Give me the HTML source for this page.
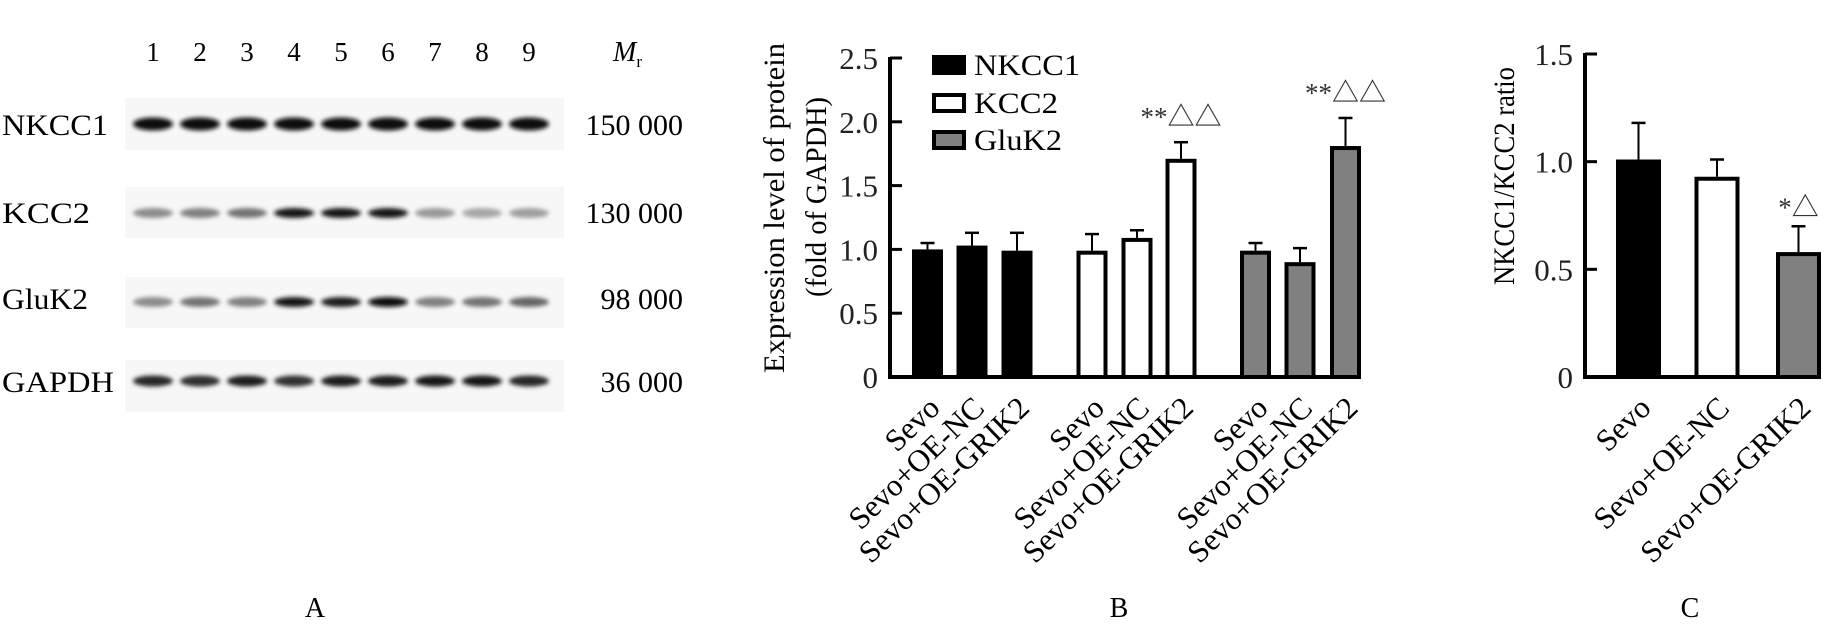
<!DOCTYPE html>
<html><head><meta charset="utf-8">
<style>
html,body{margin:0;padding:0;background:#fff;}
svg{display:block;font-family:"Liberation Serif","Noto Serif CJK SC",serif;}
</style></head>
<body>
<svg id="fig" width="1827" height="643" viewBox="0 0 1827 643" xmlns="http://www.w3.org/2000/svg">
<defs>
<filter id="blur" x="-30%" y="-100%" width="160%" height="300%"><feGaussianBlur stdDeviation="2.2"/></filter>
</defs>
<g id="panelA"></g>
<g id="panelB"></g>
<g id="panelC"></g>
<text x="315" y="617" font-size="28" text-anchor="middle">A</text>
<text x="1119" y="617" font-size="28" text-anchor="middle">B</text>
<text x="1690" y="617" font-size="28" text-anchor="middle">C</text>
</svg>
<script>
// ---- Panel A data ----
const laneLabels = ["1","2","3","4","5","6","7","8","9"];
const blotProteins = ["NKCC1","KCC2","GluK2","GAPDH"];
const blotMr = ["150 000","130 000","98 000","36 000"];
const bandNKCC1 = [0.95,0.95,0.95,0.95,0.95,0.97,0.95,0.97,0.97];
const bandKCC2 = [0.45,0.5,0.55,0.9,0.92,0.9,0.4,0.35,0.38];
const bandGluK2 = [0.45,0.55,0.5,0.92,0.88,0.95,0.5,0.55,0.6];
const bandGAPDH = [0.85,0.82,0.88,0.8,0.88,0.88,0.9,0.92,0.85];
// ---- Panel B data ----
const bCategories = ["Sevo","Sevo+OE-NC","Sevo+OE-GRIK2"];
const bSeries = ["NKCC1","KCC2","GluK2"];
const bNKCC1 = [1.0,1.03,0.99];
const bNKCC1Err = [0.05,0.10,0.14];
const bKCC2 = [0.99,1.09,1.71];
const bKCC2Err = [0.13,0.06,0.13];
const bGluK2 = [0.99,0.90,1.81];
const bGluK2Err = [0.06,0.11,0.22];
const bAnnot = ["","","", "","","**△△", "","","**△△"];
const bTicks = [0,0.5,1.0,1.5,2.0,2.5];
const bTickLabels = ["0","0.5","1.0","1.5","2.0","2.5"];
// ---- Panel C data ----
const cCategories = ["Sevo","Sevo+OE-NC","Sevo+OE-GRIK2"];
const cValues = [1.01,0.93,0.58];
const cErr = [0.17,0.08,0.12];
const cAnnot = ["","","*△"];
const cTicks = [0,0.5,1.0,1.5];
const cTickLabels = ["0","0.5","1.0","1.5"];

const NS="http://www.w3.org/2000/svg";
function mk(parent,tag,attrs,text){const e=document.createElementNS(NS,tag);for(const k in attrs)e.setAttribute(k,attrs[k]);if(text!==undefined)e.textContent=text;parent.appendChild(e);return e;}

// ---- Panel A ----
const A=document.getElementById('panelA');
const laneX=i=>153+47*i;
laneLabels.forEach((l,i)=>{
  const t=mk(A,'text',{x:laneX(i),y:61,'font-size':27,'text-anchor':'middle'},l);
  
  
});
const mr=mk(A,'text',{x:613,y:61,'font-size':28,'font-style':'italic'},'M');


mk(mr,'tspan',{'font-size':17,'font-style':'normal',dy:6},'r');
const strips=[[98,150,124,11],[187,238,213,8],[277,328,302,8],[360,412,381,9]];
const bandData=[bandNKCC1,bandKCC2,bandGluK2,bandGAPDH];
const labelBase=[135,223,309,392];
const labelLen=[106,88,86,112];
blotProteins.forEach((p,r)=>{
  const [y0,y1,yc,h]=strips[r];
  const s=mk(A,'rect',{x:125,y:y0,width:439,height:y1-y0,fill:'#f7f7f7'});
  
  
  bandData[r].forEach((v,i)=>{
    const g=Math.round(255*(1-v));
    const b=mk(A,'ellipse',{cx:laneX(i),cy:yc,rx:20,ry:h/2+1,fill:`rgb(${g},${g},${g})`,filter:'url(#blur)'});
    
    
  });
  const t=mk(A,'text',{x:2,y:labelBase[r],'font-size':30,textLength:labelLen[r],lengthAdjust:'spacingAndGlyphs'},p);
  
  
  const m=mk(A,'text',{x:683,y:labelBase[r],'font-size':30,'text-anchor':'end'},blotMr[r]);
  
  
});

// ---- generic bar chart helper ----
function drawAxes(G,axX,axRight,y0,yTop,ticks,tickLabels,yMax){
  const ys=v=>y0-(y0-yTop)*v/yMax;
  const yl=mk(G,'line',{x1:axX,y1:yTop-1,x2:axX,y2:y0+2,stroke:'#000','stroke-width':4});
  
  
  const xl=mk(G,'line',{x1:axX-2,y1:y0,x2:axRight,y2:y0,stroke:'#000','stroke-width':4});
  
  
  ticks.forEach((t,i)=>{
    const tk=mk(G,'line',{x1:axX,y1:ys(t),x2:axX+12,y2:ys(t),stroke:'#000','stroke-width':3});
    
    
    const tl=mk(G,'text',{x:axX-12,y:ys(t)+11,'font-size':31,'text-anchor':'end',fill:'#222'},tickLabels[i]);
    
    
  });
  return ys;
}
function drawBar(G,cx,w,v,err,fill,ys,y0){
  const e=mk(G,'line',{x1:cx,y1:ys(v),x2:cx,y2:ys(v+err),stroke:'#000','stroke-width':2});
  
  
  const c=mk(G,'line',{x1:cx-7,y1:ys(v+err),x2:cx+7,y2:ys(v+err),stroke:'#000','stroke-width':2.5});
  
  
  const r=mk(G,'rect',{x:cx-w/2+2,y:ys(v)+2,width:w-4,height:y0-ys(v)-2,fill:fill,stroke:'#000','stroke-width':4});
  
  
}
function xLabel(G,cx,y,txt){
  const t=mk(G,'text',{x:cx+14,y:y,'font-size':31,'text-anchor':'end',transform:`rotate(-44 ${cx+14} ${y})`},txt);
  
  
}

// ---- Panel B ----
const B=document.getElementById('panelB');
const ysB=drawAxes(B,890,1361,377,58,bTicks,bTickLabels,2.5);
const bCenters=[927.5,972,1017,1092,1137,1181,1255.5,1300,1345.5];
const fills=['#000','#fff','#808080'];
const bVals=[bNKCC1,bKCC2,bGluK2], bErrs=[bNKCC1Err,bKCC2Err,bGluK2Err];
bSeries.forEach((s,si)=>{
  bCategories.forEach((c,ci)=>{
    const k=si*3+ci, cx=bCenters[k];
    drawBar(B,cx,31,bVals[si][ci],bErrs[si][ci],fills[si],ysB,377);
    xLabel(B,cx,410,c);
    if(bAnnot[k]){
      const a=mk(B,'text',{x:cx,y:ysB(bVals[si][ci]+bErrs[si][ci])-16,'font-size':27,'text-anchor':'middle',fill:'#333'},bAnnot[k]);
      
      
    }
  });
  const ly=[65,103,140][si];
  const lb=mk(B,'rect',{x:934,y:ly-8,width:30,height:16,fill:fills[si],stroke:'#000','stroke-width':4});
  
  
  const lt=mk(B,'text',{x:974,y:ly+10,'font-size':30,textLength:[106,84,88][si],lengthAdjust:'spacingAndGlyphs'},s);
  
  
});
const bt1=mk(B,'text',{x:0,y:0,'font-size':30,'text-anchor':'middle',textLength:330,lengthAdjust:'spacingAndGlyphs',transform:'translate(784 208) rotate(-90)'},'Expression level of protein');


const bt2=mk(B,'text',{x:0,y:0,'font-size':30,'text-anchor':'middle',textLength:200,lengthAdjust:'spacingAndGlyphs',transform:'translate(826 197) rotate(-90)'},'(fold of GAPDH)');



// ---- Panel C ----
const C=document.getElementById('panelC');
const ysC=drawAxes(C,1585,1820,377,54,cTicks,cTickLabels,1.5);
const cCenters=[1638.5,1717,1798.5];
cCategories.forEach((c,i)=>{
  drawBar(C,cCenters[i],45,cValues[i],cErr[i],fills[i],ysC,377);
  xLabel(C,cCenters[i],410,c);
  if(cAnnot[i]){
    const a=mk(C,'text',{x:cCenters[i],y:ysC(cValues[i]+cErr[i])-10,'font-size':27,'text-anchor':'middle',fill:'#333'},cAnnot[i]);
    
    
  }
});
const ct=mk(C,'text',{x:0,y:0,'font-size':30,'text-anchor':'middle',textLength:218,lengthAdjust:'spacingAndGlyphs',transform:'translate(1514 176) rotate(-90)'},'NKCC1/KCC2 ratio');


</script>
</body></html>
